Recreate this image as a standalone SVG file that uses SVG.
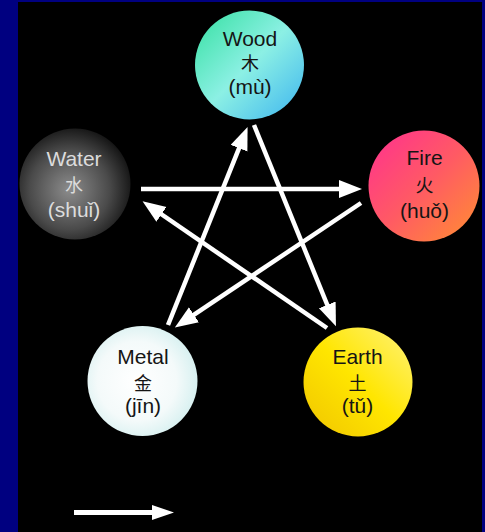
<svg xmlns="http://www.w3.org/2000/svg" width="485" height="532" viewBox="0 0 485 532">
<defs>
<style>
.lbl{font-family:"Liberation Sans","Noto Sans CJK SC",Arial,sans-serif;font-size:21px;text-anchor:middle;fill:#151515}
.cjk{font-family:"Noto Sans CJK SC","Liberation Sans",sans-serif;font-size:18px;text-anchor:middle;fill:#151515}
.light{fill:#dcdcdc}
.arrow{stroke:#ffffff;stroke-width:4.5;fill:none}
</style>
<marker id="head" markerUnits="userSpaceOnUse" markerWidth="26" markerHeight="20" refX="12" refY="9" orient="auto">
<path d="M0,0 L23,9 L0,18 Z" fill="#ffffff"/>
</marker>
<linearGradient id="gWood" x1="0" y1="0" x2="1" y2="1">
<stop offset="0" stop-color="#34e0a0"/>
<stop offset="0.5" stop-color="#8cf0e4"/>
<stop offset="1" stop-color="#3cb4f0"/>
</linearGradient>
<radialGradient id="gWater" cx="0.45" cy="0.55" r="0.6">
<stop offset="0" stop-color="#8c8c8c"/>
<stop offset="0.6" stop-color="#4a4a4a"/>
<stop offset="1" stop-color="#0e0e0e"/>
</radialGradient>
<linearGradient id="gFire" x1="0" y1="0" x2="1" y2="1">
<stop offset="0" stop-color="#ff3090"/>
<stop offset="0.5" stop-color="#ff5a64"/>
<stop offset="1" stop-color="#ff9030"/>
</linearGradient>
<radialGradient id="gMetal" cx="0.45" cy="0.5" r="0.6">
<stop offset="0" stop-color="#ffffff"/>
<stop offset="0.6" stop-color="#f4fafa"/>
<stop offset="1" stop-color="#d0eeee"/>
</radialGradient>
<linearGradient id="gEarth" x1="0" y1="1" x2="1" y2="0">
<stop offset="0" stop-color="#f0c400"/>
<stop offset="0.5" stop-color="#ffe600"/>
<stop offset="1" stop-color="#fff27a"/>
</linearGradient>
</defs>
<rect x="0" y="0" width="485" height="532" fill="#000080"/>
<rect x="18" y="2" width="464" height="530" fill="#000000"/>

<g id="connectors">
<line class="arrow" x1="254" y1="125" x2="331.8" y2="316.0" marker-end="url(#head)"/>
<line class="arrow" x1="327" y1="328" x2="151.6" y2="207.5" marker-end="url(#head)"/>
<line class="arrow" x1="141" y1="189" x2="351" y2="189" marker-end="url(#head)"/>
<line class="arrow" x1="361" y1="203" x2="184" y2="321.4" marker-end="url(#head)"/>
<line class="arrow" x1="168" y1="325" x2="243.5" y2="137.1" marker-end="url(#head)"/>
</g>

<g id="wood">
<circle cx="249.5" cy="65" r="54.5" fill="url(#gWood)"/>
<text class="lbl" x="250" y="46">Wood</text>
<text class="cjk" x="250" y="70">木</text>
<text class="lbl" x="250" y="94">(mù)</text>
</g>
<g id="water">
<circle cx="75" cy="184" r="55.5" fill="url(#gWater)"/>
<text class="lbl light" x="74" y="166">Water</text>
<text class="cjk light" x="74" y="192">水</text>
<text class="lbl light" x="74" y="217">(shuǐ)</text>
</g>
<g id="fire">
<circle cx="424" cy="186" r="55.5" fill="url(#gFire)"/>
<text class="lbl" x="424.5" y="165">Fire</text>
<text class="cjk" x="424.5" y="192">火</text>
<text class="lbl" x="424.5" y="218">(huǒ)</text>
</g>
<g id="metal">
<circle cx="142.5" cy="381" r="55" fill="url(#gMetal)"/>
<text class="lbl" x="143" y="364">Metal</text>
<text class="cjk" x="143" y="390">金</text>
<text class="lbl" x="143" y="413">(jīn)</text>
</g>
<g id="earth">
<circle cx="358" cy="382" r="54.5" fill="url(#gEarth)"/>
<text class="lbl" x="357.5" y="364">Earth</text>
<text class="cjk" x="357.5" y="390">土</text>
<text class="lbl" x="357.5" y="413">(tǔ)</text>
</g>

<g id="legend">
<line x1="74" y1="512.5" x2="162" y2="512.5" stroke="#ffffff" stroke-width="5"/>
<path d="M152,505 L174,512.5 L152,520 Z" fill="#ffffff"/>
</g>
</svg>
